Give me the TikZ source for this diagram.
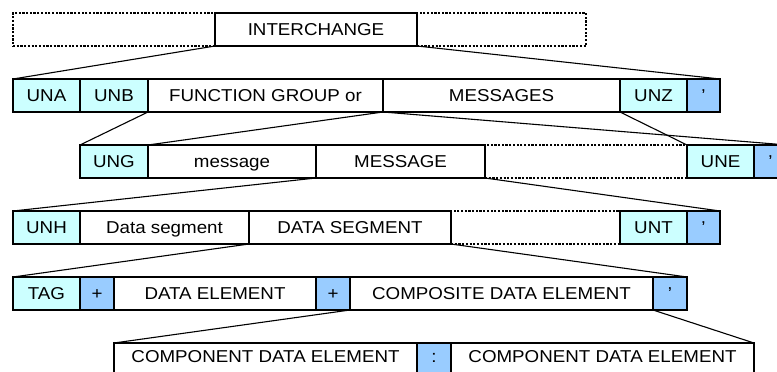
\documentclass[tikz,border=0pt]{standalone}
\usepackage{fontspec}
\setmainfont{Liberation Sans}[FakeStretch=1.09]
\definecolor{segc}{HTML}{CCFFFF}
\definecolor{sepc}{HTML}{99CCFF}
\begin{document}
\begin{tikzpicture}[x=1pt,y=-1pt,
  seg/.style={draw=black, line width=1.1pt, rectangle, inner sep=0pt, outer sep=0pt,
    minimum height=33pt, text height=12.3pt, text depth=0pt,
    font=\fontsize{17.2}{20}\selectfont},
  plain/.style={seg, fill=white},
  tagbox/.style={seg, fill=segc},
  sepbox/.style={seg, fill=sepc},
  dots/.style={seg, line width=1.1pt, dash pattern=on 2.2pt off 1.5pt},
  lastrow/.style={text depth=6pt},
  link/.style={draw=black, line width=1.1pt}]
\useasboundingbox (0,0) rectangle (777,372);
% Row 1
\node[dots, minimum width=202pt] (ia) at (114,29.5) {};
\node[dots, minimum width=169pt] (ib) at (501.5,29.5) {};
\node[plain, minimum width=202pt] (inter) at (316,29.5) {INTERCHANGE};
% Row 2
\node[tagbox, minimum width=67pt] (una) at (46.5,95.5) {UNA};
\node[tagbox, minimum width=68pt] (unb) at (114,95.5) {UNB};
\node[plain, minimum width=235pt] (fg) at (265.5,95.5) {FUNCTION GROUP or};
\node[plain, minimum width=237pt] (msgs) at (501.5,95.5) {MESSAGES};
\node[tagbox, minimum width=67pt] (unz) at (653.5,95.5) {UNZ};
\node[sepbox, minimum width=33pt] (qa) at (703.5,95.5) {’};
% Row 3
\node[dots, minimum width=202pt] (mdots) at (586,161.5) {};
\node[tagbox, minimum width=68pt] (ung) at (114,161.5) {UNG};
\node[plain, minimum width=168pt] (msg) at (232,161.5) {message};
\node[plain, minimum width=169pt] (MSG) at (400.5,161.5) {MESSAGE};
\node[tagbox, minimum width=67pt] (une) at (720.5,161.5) {UNE};
\node[sepbox, minimum width=33pt] (qb) at (770.5,161.5) {’};
% Row 4
\node[dots, minimum width=169pt] (sdots) at (535.5,227.5) {};
\node[tagbox, minimum width=67pt] (unh) at (46.5,227.5) {UNH};
\node[plain, minimum width=169pt] (dseg) at (164.5,227.5) {Data segment};
\node[plain, minimum width=202pt] (DSEG) at (350,227.5) {DATA SEGMENT};
\node[tagbox, minimum width=67pt] (unt) at (653.5,227.5) {UNT};
\node[sepbox, minimum width=33pt] (qc) at (703.5,227.5) {’};
% Row 5
\node[tagbox, minimum width=67pt] (tag) at (46.5,293.5) {TAG};
\node[sepbox, minimum width=34pt] (pa) at (97,293.5) {+};
\node[plain, minimum width=202pt] (de) at (215,293.5) {DATA ELEMENT};
\node[sepbox, minimum width=34pt] (pb) at (333,293.5) {+};
\node[plain, minimum width=303pt] (cde) at (501.5,293.5) {COMPOSITE DATA ELEMENT};
\node[sepbox, minimum width=34pt] (qd) at (670,293.5) {’};
% Row 6
\node[plain, lastrow, minimum width=303pt] (ca) at (265.5,359.5) {COMPONENT DATA ELEMENT};
\node[sepbox, lastrow, minimum width=34pt] (col) at (434,359.5) {:};
\node[plain, lastrow, minimum width=303pt] (cb) at (602.5,359.5) {COMPONENT DATA ELEMENT};
% Connectors
\draw[link] (inter.south west) -- (una.north west);
\draw[link] (inter.south east) -- (qa.north east);
\draw[link] (unb.south east) -- (ung.north west);
\draw[link] (msgs.south west) -- (msg.north west);
\draw[link] (msgs.south west) -- (qb.north east);
\draw[link] (unz.south west) -- (une.north west);
\draw[link] (MSG.south west) -- (unh.north west);
\draw[link] (MSG.south east) -- (qc.north east);
\draw[link] (DSEG.south west) -- (tag.north west);
\draw[link] (DSEG.south east) -- (qd.north east);
\draw[link] (pb.south east) -- (ca.north west);
\draw[link] (cde.south east) -- (cb.north east);
\end{tikzpicture}
\end{document}
